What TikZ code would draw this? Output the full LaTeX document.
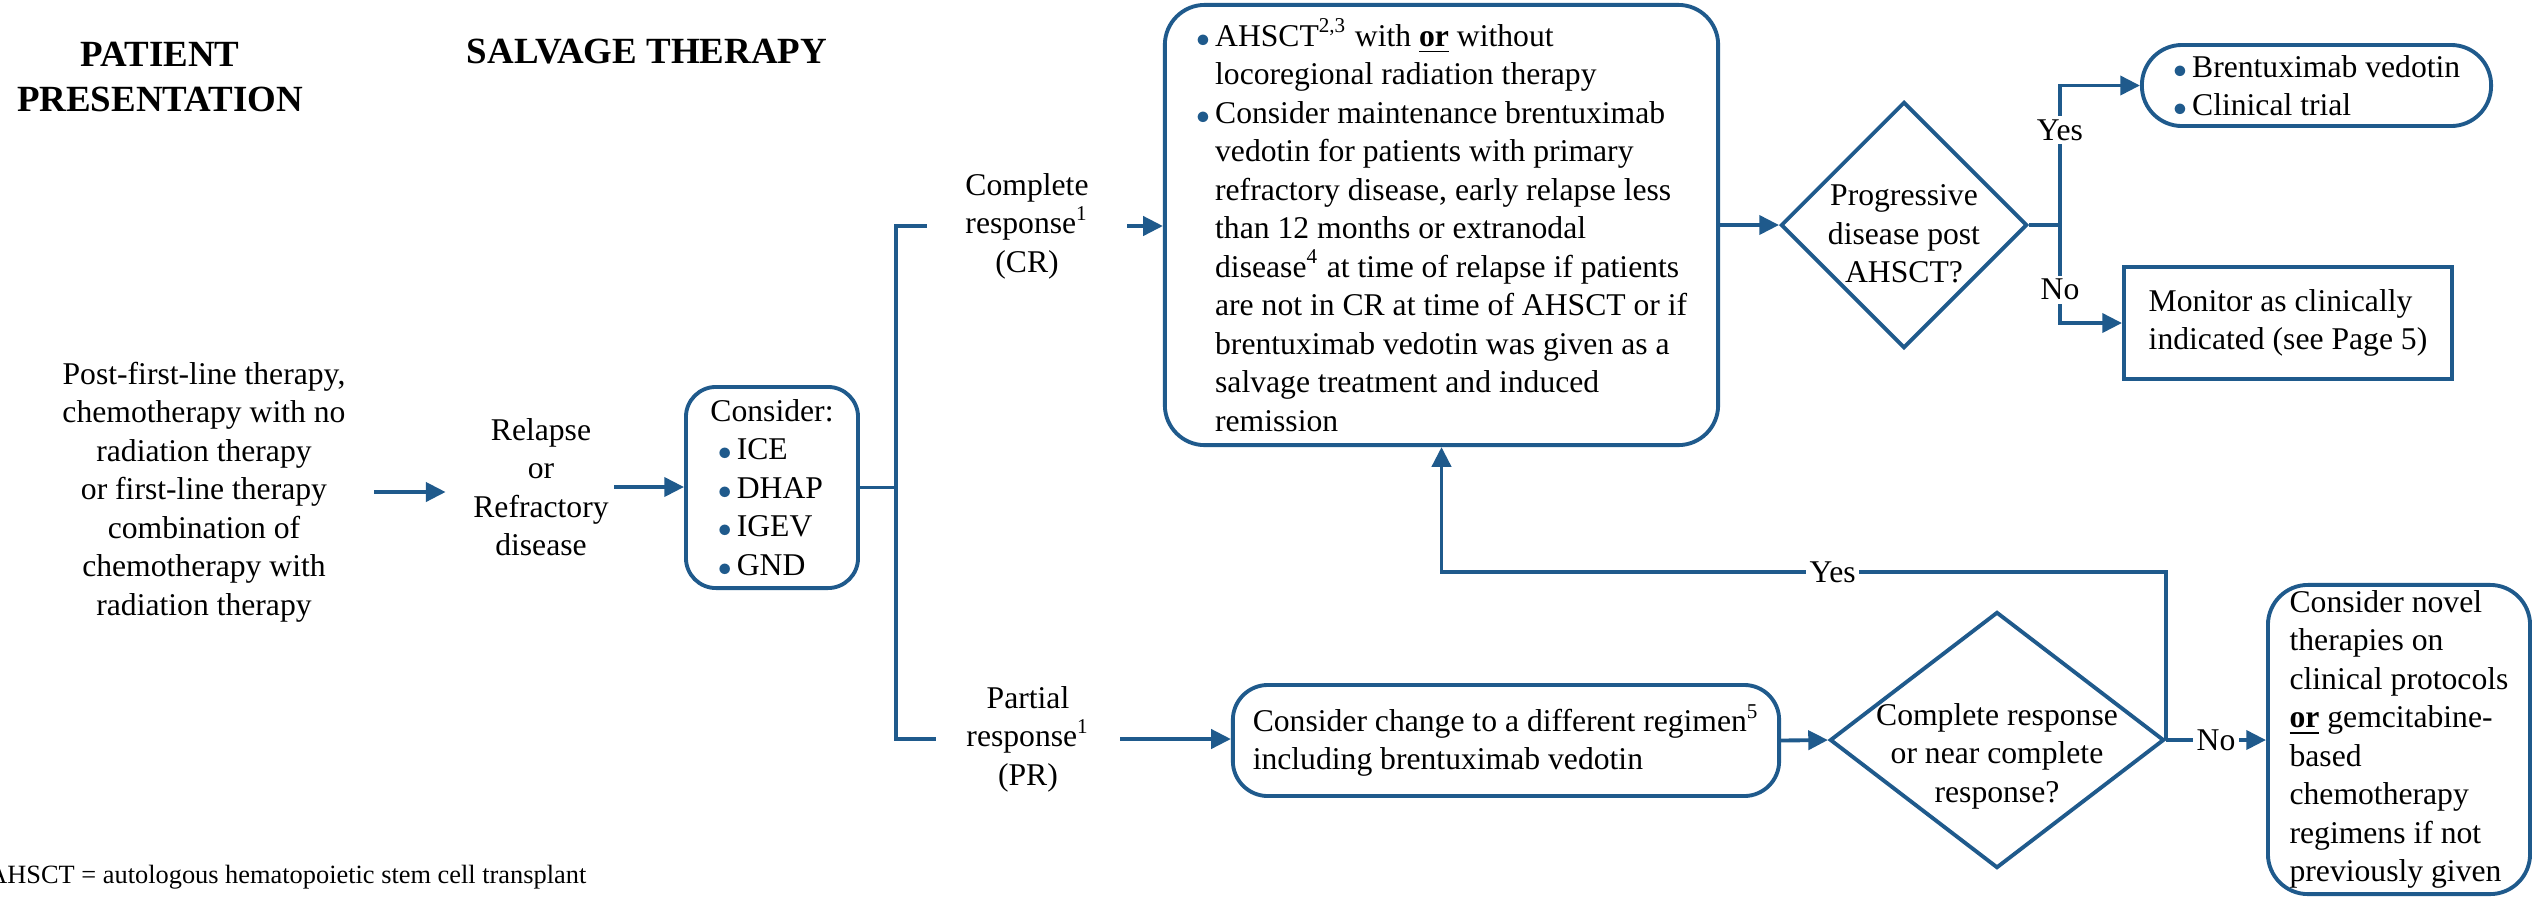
\documentclass[tikz,border=0pt]{standalone}
\usepackage{fontspec}
\setmainfont{Liberation Serif}
\usepackage{xcolor}
\usetikzlibrary{arrows.meta, shapes.geometric}

\definecolor{nccnblue}{HTML}{1F5A8C}
\newcommand{\bul}{\makebox[5.5pt][l]{\textcolor{nccnblue}{\fontsize{7.5}{7.5}\selectfont$\bullet$}}}
\newcommand{\ind}{\hspace*{5.5pt}}
\newcommand{\oru}{\underline{\textbf{or}}}

\tikzset{
	txt/.style={font=\fontsize{9}{10.95}\selectfont, align=center, inner sep=0pt},
	head/.style={font=\fontsize{10.5}{12.8}\selectfont\bfseries, align=center},
	rbox/.style={draw=nccnblue, line width=1.1pt, rounded corners=0.35cm, font=\fontsize{9}{10.95}\selectfont, align=left, inner sep=1pt},
	sqbox/.style={draw=nccnblue, line width=1.1pt, font=\fontsize{9}{10.95}\selectfont, align=left, inner sep=1pt},
	dia/.style={draw=nccnblue, line width=1.1pt, diamond, inner sep=0pt},
	conn/.style={draw=nccnblue, line width=1.1pt},
	arr/.style={conn, -{Triangle[length=5.6pt,width=5.4pt]}},
	lbl/.style={fill=white, inner sep=1pt, font=\fontsize{9}{10.95}\selectfont},
}

\begin{document}
\begin{tikzpicture}[x=0.01cm, y=-0.01cm]
				\useasboundingbox (0,0) rectangle (2532,896);
				\fill[white] (0,0) rectangle (2532,896);

				% headings
				\node[head] (hpat) at (160,77) {PATIENT\\PRESENTATION};
				\node[head] (hsal) at (647,52) {SALVAGE THERAPY};

				% left column
				\node[txt, inner xsep=0.28cm] (pres) at (204,492) {Post-first-line therapy,\\chemotherapy with no\\radiation therapy\\or first-line therapy\\combination of\\chemotherapy with\\radiation therapy};
				\node[txt, inner xsep=0.05cm] (rel) at (541,487) {Relapse\\or\\Refractory\\disease};
				\node[rbox, rounded corners=0.3cm, minimum width=1.72cm, minimum height=2.01cm] (cons) at (772,487.5) {Consider:\\\hspace*{2pt}\bul ICE\\\hspace*{2pt}\bul DHAP\\\hspace*{2pt}\bul IGEV\\\hspace*{2pt}\bul GND};
				\coordinate (split) at (896,487.5);

				% responses
				\node[txt, inner xsep=0.38cm] (cr) at (1027,226) {Complete\\response\textsuperscript{1}\\(CR)};
				\node[txt, inner xsep=0.3cm] (pr) at (1028,739) {Partial\\response\textsuperscript{1}\\(PR)};

				\node[rbox, rounded corners=0.4cm, minimum width=5.53cm, minimum height=4.4cm] (big) at (1441.5,225) {\bul AHSCT\textsuperscript{2,3} with \oru{} without\\\ind locoregional radiation therapy\\\bul Consider maintenance brentuximab\\\ind vedotin for patients with primary\\\ind refractory disease, early relapse less\\\ind than 12 months or extranodal\\\ind disease\textsuperscript{4} at time of relapse if patients\\\ind are not in CR at time of AHSCT or if\\\ind brentuximab vedotin was given as a\\\ind salvage treatment and induced\\\ind remission};

				\node[dia, minimum width=2.46cm, minimum height=2.46cm] (d1) at (1904,225) {};
				\node[txt] (d1t) at (1904,234) {Progressive\\disease post\\AHSCT?};
				\coordinate (j1) at (2060,225);
				\node[rbox, rounded corners=0.4cm, minimum width=3.49cm, minimum height=0.81cm] (bv) at (2316.5,85.5) {\bul Brentuximab vedotin\\\bul Clinical trial};
				\node[sqbox, minimum width=3.28cm, minimum height=1.12cm] (mon) at (2288,323) {Monitor as clinically\\indicated (see Page 5)};

				\node[rbox, rounded corners=0.35cm, minimum width=5.46cm, minimum height=1.11cm] (reg) at (1506,740.5) {Consider change to a different regimen\textsuperscript{5}\\including brentuximab vedotin};
				\node[dia, minimum width=3.34cm, minimum height=2.56cm] (d2) at (1997,740) {};
				\node[txt] (d2t) at (1997,756) {Complete response\\or near complete\\response?};
				\node[rbox, rounded corners=0.4cm, minimum width=2.62cm, minimum height=3.09cm] (nov) at (2399,739.5) {Consider novel\\therapies on\\clinical protocols\\\oru{} gemcitabine-\\based\\chemotherapy\\regimens if not\\previously given};
				\coordinate (loopc) at (1441.5,572);

				\node[font=\fontsize{7.5}{9}\selectfont, anchor=east, inner sep=0pt] (fn) at (587,877) {AHSCT = autologous hematopoietic stem cell transplant};

				% connectors
				\draw[arr, shorten >=0.22cm] (pres.east) -- (pres.east -| rel.west);
				\draw[arr] (rel.east) -- (rel.east -| cons.west);
				\draw[conn] (cons.east) -- (split);
				\draw[conn] (cr.west) -| (split) |- (pr.west);
				\draw[arr] (cr.east) -- (cr.east -| big.west);
				\draw[arr] (pr.east) -- (pr.east -| reg.west);
				\draw[arr] (big.east) -- (d1.west);
				\draw[conn] (d1.east) -- (j1);
				\draw[arr] (j1) |- (bv.west) node[lbl, pos=0.34] {Yes};
				\draw[arr] (j1) |- (mon.west) node[lbl, pos=0.33] {No};
				\draw[arr] (reg.east) -- (d2.west);
				\draw[arr] (d2.east) |- (loopc) node[lbl, pos=0.73] {Yes} -- (big.south);
				\draw[arr] (d2.east) -- (d2.east -| nov.west) node[lbl, midway] {No};
			\end{tikzpicture}
\end{document}
